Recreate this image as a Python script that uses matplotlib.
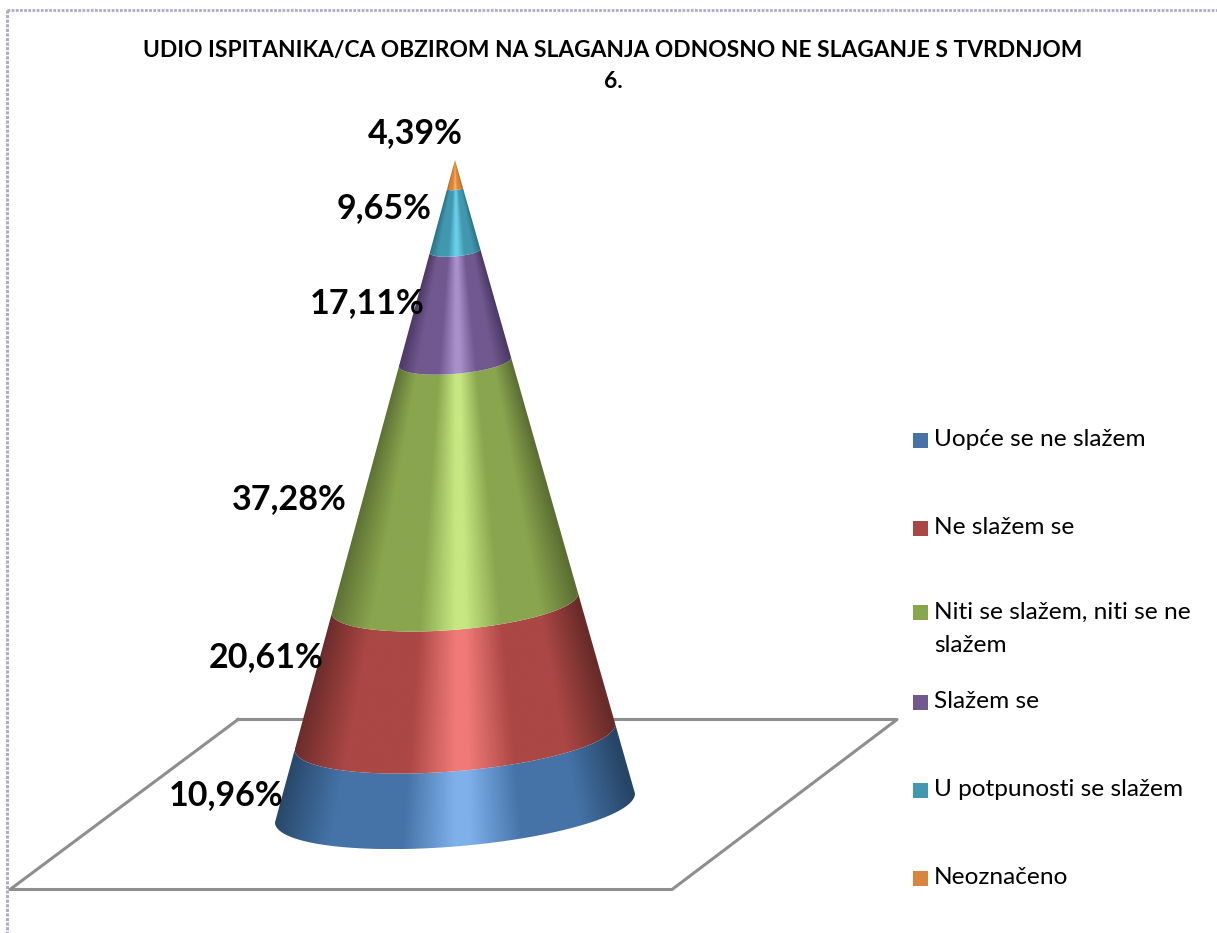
import numpy as np
import matplotlib
matplotlib.use("Agg")
import matplotlib.pyplot as plt
from matplotlib.colors import LinearSegmentedColormap
from matplotlib.patches import Polygon, Rectangle

categories = ["Uopće se ne slažem", "Ne slažem se", "Niti se slažem, niti se ne\nslažem",
              "Slažem se", "U potpunosti se slažem", "Neoznačeno"]
values = [10.96, 20.61, 37.28, 17.11, 9.65, 4.39]
value_labels = ["10,96%", "20,61%", "37,28%", "17,11%", "9,65%", "4,39%"]
title_lines = ["UDIO ISPITANIKA/CA OBZIROM NA SLAGANJA ODNOSNO NE SLAGANJE S TVRDNJOM", "6."]

# edge, mid, highlight for each segment
shades = [("#274566", "#4573a8", "#7fb0ea"),
          ("#682b29", "#ab4744", "#ef7a77"),
          ("#5c6f33", "#89a54e", "#c6e782"),
          ("#4a3863", "#71588f", "#a990cb"),
          ("#2a7288", "#4198af", "#69d0ea"),
          ("#a9621d", "#db8438", "#ffb062")]
legend_colors = ["#4572a7", "#aa4643", "#89a54e", "#71588f", "#4198af", "#db843d"]

# cone geometry in pixels
CX = 455
APEX_Y = 160
BASE_Y = 808
BASE_A = 180
BASE_B = 38.5
TILT = -0.08

plt.rcParams["font.family"] = ["Lato", "DejaVu Sans"]

fig = plt.figure(figsize=(12.17, 9.33), dpi=100)
ax = fig.add_axes([0, 0, 1, 1])
ax.set_xlim(0, 1217)
ax.set_ylim(933, 0)
ax.axis("off")

# chart border, only top and left are visible
ax.plot([7, 7], [10, 933], color="#b0aac6", lw=2.2, ls=(0, (1, 0.5)))
ax.plot([7, 1217], [10, 10], color="#b0aac6", lw=2, ls=(0, (1, 0.5)))

# floor
floor_x = [238, 897, 672, 10, 238]
floor_y = [719.5, 719.5, 889.5, 889.5, 719.5]
ax.plot(floor_x, floor_y, color="#8e8e8e", lw=2.2, solid_joinstyle="round")


def front_arc(f):
    # front half of the cone's ring at fraction f of the height from the apex
    t = np.linspace(np.pi, 0, 120)
    dx = BASE_A * f * np.cos(t)
    x = CX + dx
    y = APEX_Y + (BASE_Y - APEX_Y) * f + TILT * dx + BASE_B * f * np.sin(t)
    return x, y


def draw_segment(f_top, f_bottom, colors):
    cmap = LinearSegmentedColormap.from_list(
        "shade", [(0, colors[0]), (0.17, colors[1]), (0.36, colors[1]), (0.5, colors[2]),
                  (0.54, colors[2]), (0.68, colors[1]), (0.84, colors[1]), (1, colors[0])])
    xb, yb = front_arc(f_bottom)
    xt, yt = front_arc(f_top)
    pts = np.vstack([np.column_stack([xb, yb]), np.column_stack([xt[::-1], yt[::-1]])])
    x0, x1 = pts[:, 0].min(), pts[:, 0].max()
    y0, y1 = pts[:, 1].min(), pts[:, 1].max()
    gx, gy = np.meshgrid(np.linspace(x0, x1, 400), np.linspace(y0, y1, 200))
    radius = np.maximum(BASE_A * (gy - APEX_Y) / (BASE_Y - APEX_Y), 1.0)
    u = np.clip((gx - CX) / radius * 0.5 + 0.5, 0, 1)
    im = ax.imshow(u, cmap=cmap, vmin=0, vmax=1, extent=[x0, x1, y1, y0],
                   aspect="auto", zorder=3, interpolation="bilinear")
    clip = Polygon(pts, closed=True, transform=ax.transData)
    im.set_clip_path(clip)


# stack from the base up to the apex
fractions = 1 - np.cumsum(values) / sum(values)
f_bottom = 1.0
for f_top, colors in zip(fractions, shades):
    draw_segment(max(f_top, 0.0), f_bottom, colors)
    f_bottom = f_top
ax.set_xlim(0, 1217)
ax.set_ylim(933, 0)

for ty, line in zip([50, 82], title_lines):
    ax.text(613, ty, line, ha="center", va="center", fontsize=16.4, fontweight="bold",
            color="black", zorder=5)

label_x = [226, 266, 289, 367, 384, 415]
label_y = [795, 657, 499, 303, 208, 133]
for lx, ly, s in zip(label_x, label_y, value_labels):
    ax.text(lx, ly, s, ha="center", va="center", fontsize=24.5, fontweight="bold",
            color="black", zorder=6)

# legend
legend_y = [440, 528, 612, 702, 790, 878]
for ly, name, c in zip(legend_y, categories, legend_colors):
    ax.add_patch(Rectangle((913, ly - 7.5), 15, 15, facecolor=c, edgecolor="none"))
    first, *rest = name.split("\n")
    ax.text(934, ly, first, ha="left", va="center", fontsize=17.6, color="black")
    for extra in rest:
        ax.text(934, ly + 34, extra, ha="left", va="center", fontsize=17.6, color="black")

fig.savefig("out.png", dpi=100)
